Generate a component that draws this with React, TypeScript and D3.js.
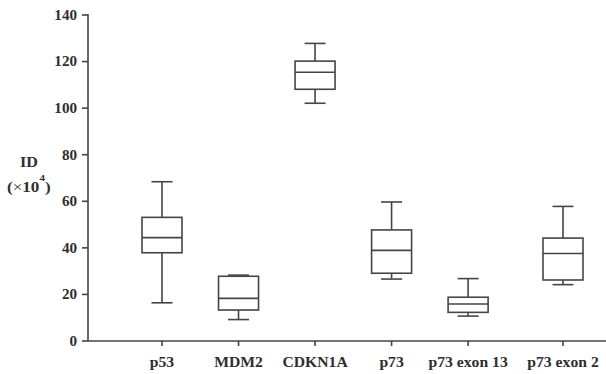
import React from "react";
import * as d3 from "d3";

// Gene expression (ID, ×10^4) per target
const categories = ["p53", "MDM2", "CDKN1A", "p73", "p73 exon 13", "p73 exon 2"];
const whiskerLow = [16.4, 9.2, 102.1, 26.6, 10.7, 24.2];
const q1 = [37.9, 13.3, 108.1, 29.1, 12.3, 26.2];
const median = [44.4, 18.3, 115.4, 38.9, 15.9, 37.6];
const q3 = [53.1, 27.8, 120.2, 47.7, 18.8, 44.2];
const whiskerHigh = [68.4, 28.3, 127.8, 59.7, 26.8, 57.8];
const yTicks = [0, 20, 40, 60, 80, 100, 120, 140];

const W = 606;
const H = 374;
const axisX = 88;
const axisY = 341;
const topY = 15;

const ink = "#454545";
const font = "'Liberation Serif', 'Times New Roman', serif";

export default function App() {
  const y = d3.scaleLinear().domain([0, 140]).range([axisY, topY]);
  // last group sits a little further from its neighbours
  const slot = (i: number) => i + (i === categories.length - 1 ? 0.24 : 0);
  const x = d3.scaleLinear().domain([0, 5.24]).range([162, 563]);

  const boxW = 40;
  const capW = 21;

  return (
    <svg
      width={W}
      height={H}
      style={{ position: "absolute", left: 0, top: 0, background: "#fff" }}
      fontFamily={font}
      fontWeight="bold"
    >
      {/* axes */}
      <line x1={axisX} x2={axisX} y1={topY - 1} y2={axisY} stroke={ink} strokeWidth={1.6} />
      <line x1={axisX} x2={W} y1={axisY} y2={axisY} stroke={ink} strokeWidth={1.6} />

      {yTicks.map((t) => (
        <g key={t}>
          <line x1={axisX - 6} x2={axisX} y1={y(t)} y2={y(t)} stroke={ink} strokeWidth={1.6} />
          <text
            transform={`translate(${axisX - 11},${y(t)}) scale(1.08,1)`}
            dy="0.35em"
            textAnchor="end"
            fontSize={14}
            fill="#2e2e2e"
          >
            {t}
          </text>
        </g>
      ))}

      {categories.map((c, i) => {
        const cx = x(slot(i));
        return (
          <g key={c}>
            <line x1={cx} x2={cx} y1={axisY} y2={axisY + 5} stroke={ink} strokeWidth={1.6} />
            <text
              transform={`translate(${cx},${axisY + 26}) scale(1.12,1)`}
              textAnchor="middle"
              fontSize={14}
              fill="#2e2e2e"
            >
              {c}
            </text>
            {/* whiskers */}
            <line x1={cx} x2={cx} y1={y(whiskerHigh[i])} y2={y(q3[i])} stroke={ink} strokeWidth={1.6} />
            <line x1={cx} x2={cx} y1={y(q1[i])} y2={y(whiskerLow[i])} stroke={ink} strokeWidth={1.6} />
            <line x1={cx - capW / 2} x2={cx + capW / 2} y1={y(whiskerHigh[i])} y2={y(whiskerHigh[i])} stroke={ink} strokeWidth={1.6} />
            <line x1={cx - capW / 2} x2={cx + capW / 2} y1={y(whiskerLow[i])} y2={y(whiskerLow[i])} stroke={ink} strokeWidth={1.6} />
            {/* box */}
            <rect
              x={cx - boxW / 2}
              y={y(q3[i])}
              width={boxW}
              height={y(q1[i]) - y(q3[i])}
              fill="#fff"
              stroke={ink}
              strokeWidth={1.6}
            />
            <line x1={cx - boxW / 2} x2={cx + boxW / 2} y1={y(median[i])} y2={y(median[i])} stroke={ink} strokeWidth={1.6} />
          </g>
        );
      })}

      {/* y-axis title */}
      <text transform="translate(29,167) scale(1.15,1)" textAnchor="middle" fontSize={14} fill="#2e2e2e">
        ID
      </text>
      <text transform="translate(7,192) scale(1.22,1)" fontSize={14} fill="#2e2e2e">
        (
        <tspan fontWeight="normal">×</tspan>
        10
        <tspan fontSize={9} dy={-11}>4</tspan>
        <tspan dy={11}>)</tspan>
      </text>
    </svg>
  );
}
